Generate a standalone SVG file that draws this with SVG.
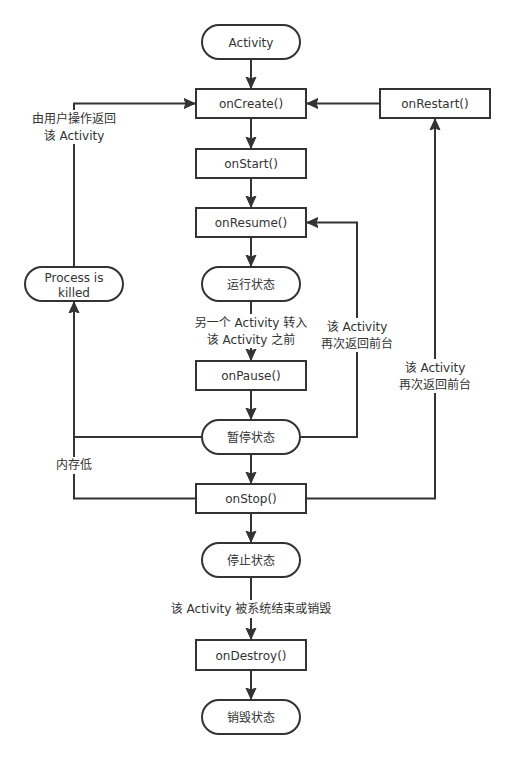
<svg xmlns="http://www.w3.org/2000/svg" width="514" height="758" viewBox="0 0 514 758">
<style>
.box{fill:#fff;stroke:#333;stroke-width:2}
.t{font-family:"DejaVu Sans","Noto Sans CJK SC",sans-serif;font-size:12px;fill:#333;text-anchor:middle}
.c{fill:none;stroke:#333;stroke-width:2}
.bg{fill:#fff}
</style>
<defs>
<marker id="ah" markerUnits="userSpaceOnUse" markerWidth="12" markerHeight="12" viewBox="0 0 12 12" refX="11" refY="6" orient="auto">
<path d="M0,1 L11,6 L0,11 L2,6 z" fill="#333" stroke="#333" stroke-width="1"/>
</marker>
</defs>
<rect width="514" height="758" fill="#fff"/>
<g id="connectors">
<path class="c" d="M251,59 V88" marker-end="url(#ah)"/>
<path class="c" d="M251,118 V148" marker-end="url(#ah)"/>
<path class="c" d="M251,178 V207" marker-end="url(#ah)"/>
<path class="c" d="M251,237 V266" marker-end="url(#ah)"/>
<path class="c" d="M251,301 V360" marker-end="url(#ah)"/>
<path class="c" d="M251,390 V419" marker-end="url(#ah)"/>
<path class="c" d="M251,454 V483" marker-end="url(#ah)"/>
<path class="c" d="M251,513 V542" marker-end="url(#ah)"/>
<path class="c" d="M251,577 V639" marker-end="url(#ah)"/>
<path class="c" d="M251,670 V699" marker-end="url(#ah)"/>
<path class="c" d="M380,103.5 H307" marker-end="url(#ah)"/>
<path class="c" d="M74,267 V103.5 H195" marker-end="url(#ah)"/>
<path class="c" d="M202,437 H74 V302" marker-end="url(#ah)"/>
<path class="c" d="M196,498.5 H74 V437"/>
<path class="c" d="M300,437 H357 V222.5 H307" marker-end="url(#ah)"/>
<path class="c" d="M306,498.5 H435 V119" marker-end="url(#ah)"/>
<rect class="bg" x="28" y="110" width="93" height="34"/>
<text class="t"><tspan x="74" y="123">由用户操作返回</tspan><tspan x="74" dy="16.5">该 Activity</tspan></text>
<rect class="bg" x="186" y="314" width="130" height="34"/>
<text class="t"><tspan x="251" y="327">另一个 Activity 转入</tspan><tspan x="251" dy="16.5">该 Activity 之前</tspan></text>
<rect class="bg" x="315" y="318" width="84" height="34"/>
<text class="t"><tspan x="357" y="331">该 Activity</tspan><tspan x="357" dy="16.5">再次返回前台</tspan></text>
<rect class="bg" x="393" y="359" width="84" height="34"/>
<text class="t"><tspan x="435" y="372">该 Activity</tspan><tspan x="435" dy="16.5">再次返回前台</tspan></text>
<rect class="bg" x="52" y="457" width="44" height="17"/>
<text class="t" x="74" y="469">内存低</text>
<rect class="bg" x="162" y="600" width="180" height="18"/>
<text class="t" x="251" y="613">该 Activity 被系统结束或销毁</text>
</g>
<g id="activity"><rect class="box" x="202" y="25" width="98" height="34" rx="17"/><text class="t" x="251" y="46.5">Activity</text></g>
<g id="onCreate"><rect class="box" x="196" y="89" width="110" height="29"/><text class="t" x="251" y="107.5">onCreate()</text></g>
<g id="onRestart"><rect class="box" x="380" y="89" width="110" height="29"/><text class="t" x="435" y="107.5">onRestart()</text></g>
<g id="onStart"><rect class="box" x="196" y="149" width="110" height="29"/><text class="t" x="251" y="167.5">onStart()</text></g>
<g id="onResume"><rect class="box" x="196" y="208" width="110" height="29"/><text class="t" x="251" y="226.5">onResume()</text></g>
<g id="running"><rect class="box" x="202" y="267" width="98" height="34" rx="17"/><text class="t" x="251" y="288.5">运行状态</text></g>
<g id="killed"><rect class="box" x="25" y="267" width="98" height="34" rx="17"/><text class="t"><tspan x="74" y="281.5">Process is</tspan><tspan x="74" dy="15.5">killed</tspan></text></g>
<g id="onPause"><rect class="box" x="196" y="361" width="110" height="29"/><text class="t" x="251" y="379.5">onPause()</text></g>
<g id="paused"><rect class="box" x="202" y="420" width="98" height="34" rx="17"/><text class="t" x="251" y="441.5">暂停状态</text></g>
<g id="onStop"><rect class="box" x="196" y="484" width="110" height="29"/><text class="t" x="251" y="502.5">onStop()</text></g>
<g id="stopped"><rect class="box" x="202" y="543" width="98" height="34" rx="17"/><text class="t" x="251" y="564.5">停止状态</text></g>
<g id="onDestroy"><rect class="box" x="196" y="640" width="110" height="30"/><text class="t" x="251" y="659.5">onDestroy()</text></g>
<g id="destroyed"><rect class="box" x="202" y="700" width="98" height="34" rx="17"/><text class="t" x="251" y="721.5">销毁状态</text></g>
</svg>
